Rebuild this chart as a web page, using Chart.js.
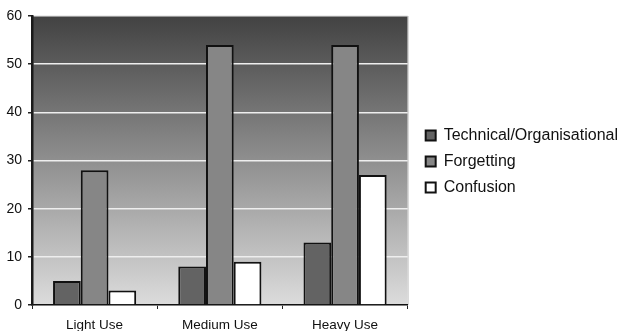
<!DOCTYPE html>
<html>
<head>
<meta charset="utf-8">
<script src="https://cdn.jsdelivr.net/npm/chart.js@4/dist/chart.umd.min.js"></script>
<style>
  html, body { margin: 0; padding: 0; background: #fff; }
</style>
</head>
<body>
<canvas id="chart" width="620" height="331"></canvas>
<script>
const categories = ["Light Use", "Medium Use", "Heavy Use"];
const seriesNames = ["Technical/Organisational", "Forgetting", "Confusion"];
const technical = [5, 8, 13];
const forgetting = [28, 54, 54];
const confusion = [3, 9, 27];
const yMax = 60;
const yStep = 10;

// gradient plot background + light right edge
const plotBackground = {
  id: "plotBackground",
  beforeDraw(chart) {
    const { ctx, chartArea: a } = chart;
    const g = ctx.createLinearGradient(0, a.top, 0, a.bottom);
    g.addColorStop(0, "#424242");
    g.addColorStop(1, "#dcdcdc");
    ctx.save();
    ctx.fillStyle = g;
    ctx.fillRect(a.left, a.top, a.right - a.left, a.bottom - a.top);
    ctx.strokeStyle = "#c8c8c8";
    ctx.lineWidth = 1;
    ctx.beginPath();
    ctx.moveTo(a.right + 0.5, a.top);
    ctx.lineTo(a.right + 0.5, a.bottom);
    ctx.stroke();
    ctx.restore();
  }
};

// nudge legend right and up, like the original
const legendShift = {
  id: "legendShift",
  afterLayout(chart) {
    const lg = chart.legend;
    lg.left += 8;
    lg.right += 8;
    lg.top -= 24;
  }
};

const font = { family: "'Liberation Sans', Arial, sans-serif" };

new Chart(document.getElementById("chart").getContext("2d"), {
  type: "bar",
  data: {
    labels: categories,
    datasets: [
      { label: seriesNames[0], data: technical, backgroundColor: "#636363" },
      { label: seriesNames[1], data: forgetting, backgroundColor: "#868686" },
      { label: seriesNames[2], data: confusion, backgroundColor: "#ffffff" }
    ].map(ds => Object.assign(ds, {
      borderColor: "#111111",
      borderWidth: 2,
      categoryPercentage: 0.664,
      barPercentage: 1.0
    }))
  },
  options: {
    responsive: false,
    animation: false,
    layout: { padding: { top: 16, right: 0, left: 0, bottom: 0 } },
    plugins: {
      legend: {
        position: "right",
        maxWidth: 260,
        labels: {
          boxWidth: 10,
          boxHeight: 10,
          padding: 10,
          color: "#111",
          font: { ...font, size: 16 }
        }
      },
      tooltip: { enabled: false }
    },
    scales: {
      x: {
        afterFit: s => { s.height = 26; },
        grid: { drawOnChartArea: false, tickLength: 4, tickColor: "#222", offset: true },
        border: { color: "#111", width: 1.5 },
        ticks: { color: "#111", padding: 8, font: { ...font, size: 13.5 } }
      },
      y: {
        min: 0,
        max: yMax,
        afterFit: s => { s.width = 32; },
        grid: { color: "#eeeeee", lineWidth: 1.5, tickLength: 4, tickColor: "#222" },
        border: { color: "#1a1a1a", width: 2.5 },
        ticks: { stepSize: yStep, color: "#111", padding: 6, font: { ...font, size: 14 } }
      }
    }
  },
  plugins: [plotBackground, legendShift]
});
</script>
</body>
</html>
